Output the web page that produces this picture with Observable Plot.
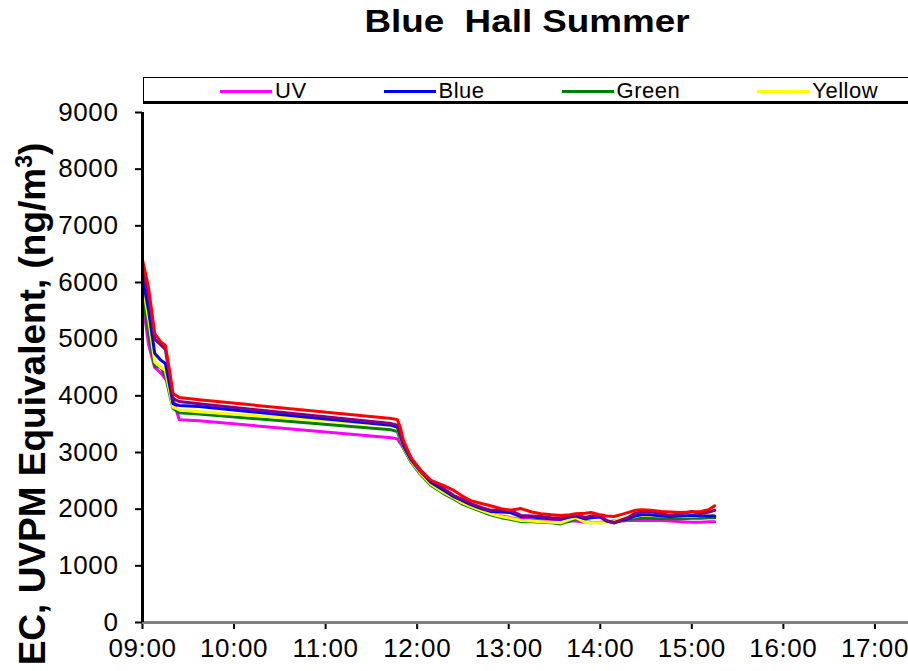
<!DOCTYPE html>
<html>
<head>
<meta charset="utf-8">
<script src="https://cdn.jsdelivr.net/npm/d3@7"></script>
<script src="https://cdn.jsdelivr.net/npm/@observablehq/plot@0.6"></script>
<style>
  html, body { margin: 0; padding: 0; background: #fff; }
  #wrap { position: relative; width: 908px; height: 671px; overflow: hidden; font-family: Arial, "Liberation Sans", sans-serif; color: #000; }
  #title { position: absolute; left: 527px; top: 3px; transform: translateX(-50%) scaleX(1.15); font-weight: bold; font-size: 32px; white-space: pre; }
  #legend { position: absolute; left: 143px; top: 77px; width: 800px; height: 23px; border-top: 1.5px solid #000; border-left: 1.5px solid #000; border-bottom: 3px solid #000; display: flex; align-items: center; gap: 77px; padding-left: 76px; box-sizing: content-box; }
  .item { display: flex; align-items: center; font-size: 22px; letter-spacing: 0.5px; padding-top: 3px; }
  .swatch { display: inline-block; width: 52px; height: 3px; margin-right: 3px; }
  #ylabel { position: absolute; left: 33px; top: 404px; transform: translate(-50%, -50%) rotate(-90deg); font-weight: bold; font-size: 37px; white-space: nowrap; }
  #ylabel sup { font-size: 23px; vertical-align: 13px; line-height: 0; }
  #chart { position: absolute; left: 0; top: 100px; }
</style>
</head>
<body>
<div id="wrap">
  <div id="title">Blue  Hall Summer</div>
  <div id="legend"></div>
  <div id="ylabel">EC, UVPM Equivalent, (ng/m<sup>3</sup>)</div>
  <div id="chart"></div>
</div>
<script>
// ---- data ----
const times = ["09:00","09:04","09:08","09:12","09:15","09:18","09:20","09:24","09:37","11:43","11:47","11:49","11:51","11:56","12:02","12:09","12:17","12:24","12:29","12:35","12:42","12:48","12:55","13:01","13:08","13:15","13:21","13:28","13:34","13:40","13:44","13:50","13:54","14:00","14:04","14:09","14:13","14:18","14:23","14:27","14:33","14:40","14:46","14:53","15:00","15:06","15:11","15:15"];

const uv = [5680,4900,4500,4400,4300,4200,3950,3580,3560,3260,3240,3160,3080,2840,2630,2440,2300,2200,2120,2050,1990,1930,1880,1850,1820,1810,1800,1790,1780,1790,1790,1770,1760,1770,1780,1790,1790,1800,1800,1800,1800,1800,1790,1780,1770,1770,1780,1780];
const green = [5800,5100,4520,4500,4350,4000,3780,3700,3680,3400,3370,3220,3080,2830,2620,2420,2280,2180,2100,2030,1960,1900,1850,1820,1780,1780,1770,1760,1740,1790,1830,1780,1770,1760,1770,1780,1800,1820,1830,1840,1840,1830,1830,1830,1840,1840,1850,1850];
const yellow = [6000,5350,4600,4500,4450,4050,3800,3750,3720,3480,3440,3260,3100,2850,2640,2440,2300,2200,2120,2050,1980,1920,1870,1840,1800,1790,1780,1770,1760,1820,1850,1770,1760,1760,1760,1780,1820,1850,1870,1890,1890,1880,1870,1870,1870,1880,1890,1890];
const blue = [6090,5500,4750,4630,4570,4150,3860,3830,3810,3480,3450,3280,3120,2870,2670,2470,2340,2220,2160,2080,2010,1960,1950,1940,1870,1860,1850,1830,1820,1860,1880,1830,1850,1860,1790,1760,1790,1830,1880,1900,1900,1880,1870,1880,1890,1880,1880,1880];
const purple = [6260,5750,5000,4900,4820,4300,3950,3900,3860,3510,3480,3300,3150,2900,2700,2500,2370,2240,2180,2100,2030,1980,1990,1980,1890,1880,1870,1850,1840,1880,1910,1850,1880,1890,1800,1760,1800,1850,1930,1950,1960,1920,1890,1920,1960,1920,1950,1980];
const red = [6400,5900,5100,4950,4890,4400,4040,3970,3930,3600,3580,3440,3210,2910,2680,2510,2420,2330,2240,2150,2100,2060,2010,1980,2010,1950,1920,1900,1890,1900,1920,1930,1940,1900,1880,1870,1900,1940,1980,1990,1980,1960,1950,1940,1950,1960,1990,2060];

const seriesNames = ["UV","Green","Yellow","Blue","Purple","Red"];
const seriesValues = [uv, green, yellow, blue, purple, red];
const seriesColors = ["#ff00ff","#008000","#ffff00","#0000ff","#800080","#ff0000"];

const legendNames = ["UV","Blue","Green","Yellow"];
const legendColors = ["#ff00ff","#0000ff","#008000","#ffff00"];

const xTickLabels = ["09:00","10:00","11:00","12:00","13:00","14:00","15:00","16:00","17:00"];
const yTicks = [0,1000,2000,3000,4000,5000,6000,7000,8000,9000];
const xDomain = ["09:00","17:22"];
const yDomain = [0, 9000];

// ---- build ----
const parseT = s => { const [h, m] = s.split(":").map(Number); return new Date(2000, 0, 1, h, m); };

const rows = [];
seriesNames.forEach((name, i) => {
  times.forEach((t, j) => rows.push({series: name, t: parseT(t), v: seriesValues[i][j]}));
});

const lines = seriesNames.map((name, i) =>
  Plot.lineY(rows.filter(r => r.series === name), {x: "t", y: "v", stroke: seriesColors[i], strokeWidth: 3, strokeLinejoin: "round"})
);

const chart = Plot.plot({
  width: 908,
  height: 571,
  marginLeft: 142,
  marginRight: 0,
  marginTop: 12,
  marginBottom: 49,
  style: {fontFamily: "Arial, 'Liberation Sans', sans-serif", fontSize: "26px", letterSpacing: "0.6px", color: "#000", background: "transparent", overflow: "visible"},
  x: {type: "time", domain: xDomain.map(parseT)},
  y: {domain: yDomain},
  marks: [
    Plot.axisX({ticks: xTickLabels.map(parseT), tickFormat: d3.timeFormat("%H:%M"), tickSize: 7, tickPadding: 9, strokeWidth: 2, label: null}),
    Plot.axisY({ticks: yTicks, tickFormat: d3.format("d"), tickSize: 7, tickPadding: 17, strokeWidth: 2, label: null}),
    Plot.ruleY([0], {stroke: "#808080", strokeWidth: 3}),
    ...lines,
    Plot.ruleX([parseT("09:00")], {stroke: "#000", strokeWidth: 3})
  ]
});
document.getElementById("chart").appendChild(chart);

const legend = document.getElementById("legend");
legendNames.forEach((n, i) => {
  const it = document.createElement("div");
  it.className = "item";
  const sw = document.createElement("span");
  sw.className = "swatch";
  sw.style.background = legendColors[i];
  it.appendChild(sw);
  it.appendChild(document.createTextNode(n));
  legend.appendChild(it);
});
</script>
</body>
</html>
